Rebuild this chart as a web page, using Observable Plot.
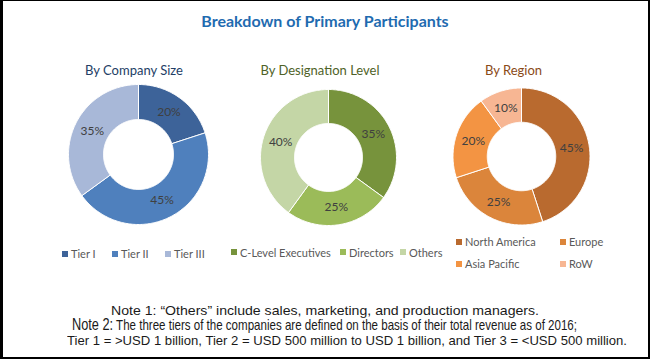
<!DOCTYPE html>
<html>
<head>
<meta charset="utf-8">
<script src="https://cdn.jsdelivr.net/npm/d3@7"></script>
<script src="https://cdn.jsdelivr.net/npm/@observablehq/plot@0.6"></script>
<style>
  html, body { margin: 0; padding: 0; background: #fff; }
  #frame { position: relative; width: 650px; height: 359px; overflow: hidden; font-family: Lato, "Open Sans", sans-serif; }
  #border { position: absolute; left: 0; top: 0; width: 650px; height: 359px; box-sizing: border-box; border-style: solid; border-color: #000; border-width: 1px 2px 2px 3px; pointer-events: none; }
  .abs { position: absolute; white-space: nowrap; }
  .title { left: 0; width: 650px; top: 11px; text-align: center; font-weight: bold; font-size: 16px; color: #1F6BB0; }
  .sub { font-size: 13px; transform: translateX(-50%); }
  .leg { font-size: 11px; color: #595959; display: flex; align-items: center; }
  .sw { display: inline-block; width: 6px; height: 6px; margin-right: 3px; }
  .note { color: #1a1a1a; font-family: "Liberation Sans", Arial, sans-serif; transform-origin: 0 50%; }
</style>
</head>
<body>
<div id="frame"></div>
<script>
// ---- data ----
const companyNames = ["Tier I", "Tier II", "Tier III"];
const companyValues = [20, 45, 35];
const companyColors = ["#3D6399", "#4F80BD", "#A8B8D8"];

const designationNames = ["C-Level Executives", "Directors", "Others"];
const designationValues = [35, 25, 40];
const designationColors = ["#77933C", "#9BBB59", "#C4D6A6"];

const regionNames = ["North America", "Europe", "Asia Pacific", "RoW"];
const regionValues = [45, 25, 20, 10];
const regionColors = ["#B96A2F", "#DB853B", "#F39443", "#F7B693"];

const titleText = "Breakdown of Primary Participants";
const subtitles = ["By Company Size", "By Designation Level", "By Region"];
const note1 = "Note 1: \u201COthers\u201D include sales, marketing, and production managers.";
const note2a = "Note 2:";
const note2b = " The three tiers of the companies are defined on the basis of their total revenue as of 2016;";
const note3 = "Tier 1 = >USD 1 billion, Tier 2 = USD 500 million to USD 1 billion, and Tier 3 = <USD 500 million.";

const frame = document.getElementById("frame");

function addDiv(cls, css) {
  const d = document.createElement("div");
  d.className = "abs " + cls;
  Object.assign(d.style, css);
  frame.appendChild(d);
  return d;
}
function span(text, css) {
  const s = document.createElement("span");
  s.textContent = text;
  Object.assign(s.style, css || {});
  return s;
}

function donut(names, values, colors, r) {
  const S = 160;
  const total = d3.sum(values);
  let acc = 0;
  const pts = [];
  const labels = [];
  names.forEach((n, i) => {
    const a0 = acc / total * 2 * Math.PI;
    acc += values[i];
    const a1 = acc / total * 2 * Math.PI;
    const steps = Math.max(2, Math.ceil((a1 - a0) / 0.02));
    const ring = [];
    for (let k = 0; k <= steps; k++) {
      const a = a0 + (a1 - a0) * k / steps;
      ring.push({name: n, x: Math.sin(a), y: Math.cos(a)});
    }
    for (let k = steps; k >= 0; k--) {
      const a = a0 + (a1 - a0) * k / steps;
      ring.push({name: n, x: 0.5 * Math.sin(a), y: 0.5 * Math.cos(a)});
    }
    ring.push({...ring[0]});
    pts.push(...ring);
    const m = (a0 + a1) / 2;
    labels.push({x: 0.74 * Math.sin(m), y: 0.74 * Math.cos(m), text: values[i] + "%"});
  });
  return Plot.plot({
    width: S, height: S, margin: 0,
    style: {fontFamily: "Lato, 'Open Sans', sans-serif", background: "transparent", overflow: "visible"},
    x: {domain: [-1, 1], range: [S / 2 - r, S / 2 + r], axis: null},
    y: {domain: [-1, 1], range: [S / 2 + r, S / 2 - r], axis: null},
    color: {domain: names, range: colors},
    marks: [
      Plot.line(pts, {x: "x", y: "y", z: "name", fill: "name", stroke: "white", strokeWidth: 1, strokeLinejoin: "miter", curve: "linear"}),
      Plot.text(labels, {x: "x", y: "y", text: "text", fill: "#404040", fontSize: 12})
    ]
  });
}

// title
addDiv("title", {}).appendChild(span(titleText));

// panels
const panels = [
  {names: companyNames, values: companyValues, colors: companyColors, cx: 138, cy: 154, r: 70, subColor: "#233E66", subX: 134},
  {names: designationNames, values: designationValues, colors: designationColors, cx: 327.5, cy: 157, r: 68, subColor: "#4F6228", subX: 320},
  {names: regionNames, values: regionValues, colors: regionColors, cx: 520.5, cy: 156, r: 68.5, subColor: "#8A4A17", subX: 513.5}
];
panels.forEach((p, i) => {
  addDiv("sub", {left: p.subX + "px", top: "62px", color: p.subColor}).appendChild(span(subtitles[i]));
  const chart = donut(p.names, p.values, p.colors, p.r);
  addDiv("", {left: (p.cx - 80) + "px", top: (p.cy - 80) + "px"}).appendChild(chart);
});

// legends
function legendItem(name, color, x, y) {
  const d = addDiv("leg", {left: x + "px", top: (y - 7) + "px"});
  const sw = span("");
  sw.className = "sw";
  sw.style.background = color;
  d.appendChild(sw);
  d.appendChild(span(name));
}
const legPos = [
  [[62, 254], [112, 254], [165, 254]],
  [[231, 252.5], [340, 252.5], [400, 252.5]],
  [[456, 242], [560, 242], [456, 264], [560, 264]]
];
panels.forEach((p, i) => p.names.forEach((n, j) => legendItem(n, p.colors[j], legPos[i][j][0], legPos[i][j][1])));

// notes, condensed horizontally to the reference's narrow face
function note(parts, left, right, top, size) {
  const d = addDiv("note", {left: left + "px", top: top + "px", fontSize: size + "px"});
  parts.forEach(([t, fs]) => d.appendChild(span(t, fs ? {fontSize: fs + "px"} : {})));
  const w = d.getBoundingClientRect().width;
  d.style.transform = `scaleX(${(right - left) / w})`;
}
note([[note1]], 111, 539, 303, 13.5);
note([[note2a, 16], [note2b, 14.5]], 72, 577, 316, 14.5);
note([[note3]], 67, 627, 333, 13.5);

const b = document.createElement("div");
b.id = "border";
frame.appendChild(b);
</script>
</body>
</html>
